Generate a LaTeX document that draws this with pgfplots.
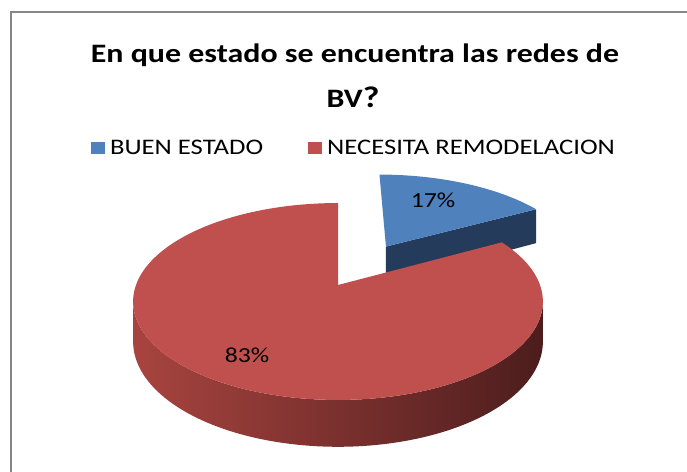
\documentclass[border=0pt]{standalone}
\usepackage{fontspec}
\setmainfont[FakeStretch=1.2]{Carlito}
\usepackage{pgfplots}
\usepackage{pgfplotstable}
\pgfplotsset{compat=1.18}

\definecolor{pieblue}{HTML}{4F81BD}
\definecolor{piered}{HTML}{C0504D}
\definecolor{bluedark}{HTML}{253B5B}
\definecolor{sideL}{HTML}{A8443F}
\definecolor{sideM}{HTML}{6E2E2C}
\definecolor{sideR}{HTML}{4C1D1D}
\definecolor{framegray}{HTML}{868686}

\pgfplotstableread{
label value
BUEN 17
NECESITA 83
}\piedata
\pgfplotstablegetelem{0}{value}\of\piedata \let\vA\pgfplotsretval
\pgfplotstablegetelem{1}{value}\of\piedata \let\vB\pgfplotsretval

% perspective pie geometry (pixels)
\def\cx{338}\def\cy{285}\def\R{202}\def\C{95.7}\def\K{0.1675}\def\D{39}
\pgfmathsetmacro\tot{\vA+\vB}
\pgfmathsetmacro\fA{\vA/\tot}
\pgfmathsetmacro\fB{\vB/\tot}
\pgfmathsetmacro\aBs{90-360*\fA}
\pgfmathsetmacro\aBm{90-180*\fA}
\pgfmathsetmacro\aRe{90+360*\fB}
\pgfmathsetmacro\ex{0.5*cos(\aBm)}
\pgfmathsetmacro\ey{0.5*sin(\aBm)}
\pgfmathsetmacro\sL{180+asin(\K)}
\pgfmathsetmacro\sR{360-asin(\K)}
\pgfmathsetmacro\bax{\cx+\R*\ex/(1+\K*\ey)}
\pgfmathsetmacro\bay{\cy-\C*\ey/(1+\K*\ey)}
\pgfmathsetmacro\bayb{\bay+\D/(1+\K*\ey)}
\pgfmathsetmacro\oX{\ex+cos(\aBs)}
\pgfmathsetmacro\oY{\ey+sin(\aBs)}
\pgfmathsetmacro\bOx{\cx+\R*\oX/(1+\K*\oY)}
\pgfmathsetmacro\bOy{\cy-\C*\oY/(1+\K*\oY)}
\pgfmathsetmacro\bOyb{\bOy+\D/(1+\K*\oY)}

\begin{document}
\begin{tikzpicture}
\begin{axis}[
  scale only axis, width=687bp, height=472bp,
  xmin=0, xmax=687, ymin=0, ymax=472, y dir=reverse,
  hide axis, clip=false,
  declare function={
    sx(\X,\Y)=\cx+\R*\X/(1+\K*\Y);
    sy(\X,\Y)=\cy-\C*\Y/(1+\K*\Y);
    dep(\Y)=\D/(1+\K*\Y);
    ph(\t)=(\t<=1)*(\sL+\t*(\sR-\sL))+(\t>1)*(\sR-(\t-1)*(\sR-\sL));
  },
  legend style={at={(axis cs:354,148)}, anchor=center, draw=none, fill=none,
    font=\fontsize{22.3}{25}\selectfont, legend columns=2,
    /tikz/every even column/.append style={column sep=43bp}},
  legend image code/.code={\fill[#1] (0bp,-5.5bp) rectangle (14bp,5.5bp); \path (17bp,0bp);},
]
% frame
\draw[framegray, line width=2bp] (axis cs:11,480) -- (axis cs:11,12) -- (axis cs:700,12);

% blue slice: cut face
\addplot[fill=bluedark, draw=none, forget plot] coordinates {(\bax,\bay) (\bOx,\bOy) (\bOx,\bOyb) (\bax,\bayb)} -- cycle;
% blue slice: top
\addplot[fill=pieblue, draw=none, forget plot, domain=\aBs:90, samples=60, variable=\t]
  ({sx(\ex+cos(\t),\ey+sin(\t))},{sy(\ex+cos(\t),\ey+sin(\t))}) -- (axis cs:\bax,\bay) -- cycle;
% red slice: side
\addplot[draw=none, left color=sideL, middle color=sideM, right color=sideR, forget plot,
  domain=0:2, samples=201, variable=\t]
  ({sx(cos(ph(\t)),sin(ph(\t)))},{sy(cos(ph(\t)),sin(ph(\t)))+(\t>1)*dep(sin(ph(\t)))}) -- cycle;
% red slice: top
\addplot[fill=piered, draw=none, forget plot, domain=90:\aRe, samples=160, variable=\t]
  ({sx(cos(\t),sin(\t))},{sy(cos(\t),sin(\t))}) -- (axis cs:\cx,\cy) -- cycle;

\addlegendimage{fill=pieblue, draw=none}
\addlegendentry{BUEN ESTADO}
\addlegendimage{fill=piered, draw=none}
\addlegendentry{NECESITA REMODELACION}

\node[font=\fontsize{21.5}{25}\selectfont] at (axis cs:433,200) {17\%};
\node[font=\fontsize{21.5}{25}\selectfont] at (axis cs:247,355) {83\%};

\node[anchor=base, font=\bfseries\fontsize{26.7}{30}\selectfont] at (axis cs:355,63) {En que estado se encuentra las redes de};
\node[anchor=base, font=\bfseries\fontsize{26.7}{30}\selectfont] at (axis cs:353,107) {BV{\fontsize{30}{30}\selectfont ?}};
\end{axis}
\pgfresetboundingbox
\path (0,0) rectangle (687bp,472bp);
\end{tikzpicture}
\end{document}
